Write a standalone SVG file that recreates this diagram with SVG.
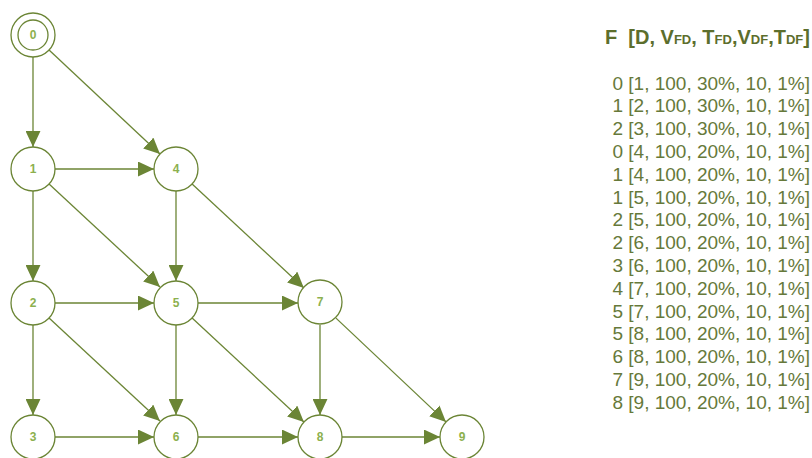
<svg xmlns="http://www.w3.org/2000/svg" width="812" height="458" viewBox="0 0 812 458">
<style>
.node circle{fill:#ffffff;stroke:#6b8535;stroke-width:1.3}
.node text{font-family:"Liberation Sans",Arial,sans-serif;font-weight:bold;font-size:12px;fill:#8cb04e;text-anchor:middle;dominant-baseline:central}
.edges line{stroke:#6b8535;stroke-width:1.3;marker-end:url(#arr)}
.title{font-family:"Liberation Sans",Arial,sans-serif;font-weight:bold;font-size:20px;fill:#5c6e2c}
.title .s{font-size:13px}
.list{font-family:"Liberation Sans",Arial,sans-serif;font-size:19px;fill:#66793a;text-anchor:end}
</style>
<defs>
<marker id="arr" markerUnits="userSpaceOnUse" markerWidth="16" markerHeight="15" viewBox="0 0 15 14" refX="15" refY="7" orient="auto">
<path d="M0,0 L15,7 L0,14 Z" fill="#6b8535"/>
</marker>
</defs>
<rect width="812" height="458" fill="#ffffff"/>
<g class="edges" id="connectors">
<line x1="33" y1="57" x2="33" y2="147"/>
<line x1="49.05" y1="50.04" x2="159.95" y2="153.96"/>
<line x1="55" y1="169" x2="154" y2="169"/>
<line x1="33" y1="191" x2="33" y2="281"/>
<line x1="49.05" y1="184.04" x2="159.95" y2="286.96"/>
<line x1="176" y1="191" x2="176" y2="281"/>
<line x1="192.1" y1="184" x2="303.9" y2="288"/>
<line x1="55" y1="303" x2="154" y2="303"/>
<line x1="33" y1="325" x2="33" y2="415"/>
<line x1="49.05" y1="318.04" x2="159.95" y2="420.96"/>
<line x1="198" y1="303" x2="298" y2="303"/>
<line x1="176" y1="325" x2="176" y2="415"/>
<line x1="192.1" y1="318" x2="303.9" y2="422"/>
<line x1="320" y1="325" x2="320" y2="415"/>
<line x1="336" y1="318.1" x2="446" y2="421.9"/>
<line x1="55" y1="437" x2="154" y2="437"/>
<line x1="198" y1="437" x2="298" y2="437"/>
<line x1="342" y1="437" x2="440" y2="437"/>
</g>
<g class="node" id="n0"><circle cx="33" cy="35" r="22"/><circle cx="33" cy="35" r="15"/><text x="33" y="35">0</text></g>
<g class="node" id="n1"><circle cx="33" cy="169" r="22"/><text x="33" y="169">1</text></g>
<g class="node" id="n4"><circle cx="176" cy="169" r="22"/><text x="176" y="169">4</text></g>
<g class="node" id="n2"><circle cx="33" cy="303" r="22"/><text x="33" y="303">2</text></g>
<g class="node" id="n5"><circle cx="176" cy="303" r="22"/><text x="176" y="303">5</text></g>
<g class="node" id="n7"><circle cx="320" cy="302" r="22"/><text x="320" y="302">7</text></g>
<g class="node" id="n3"><circle cx="33" cy="437" r="22"/><text x="33" y="437">3</text></g>
<g class="node" id="n6"><circle cx="176" cy="437" r="22"/><text x="176" y="437">6</text></g>
<g class="node" id="n8"><circle cx="320" cy="437" r="22"/><text x="320" y="437">8</text></g>
<g class="node" id="n9"><circle cx="462" cy="437" r="22"/><text x="462" y="437">9</text></g>
<g id="legend">
<text class="title" x="605" y="44" xml:space="preserve">F  [D, V<tspan class="s">FD</tspan>, T<tspan class="s">FD</tspan>,V<tspan class="s">DF</tspan>,T<tspan class="s">DF</tspan>]</text>
<text class="list" x="810" y="89.5">0 [1, 100, 30%, 10, 1%]</text>
<text class="list" x="810" y="112.3">1 [2, 100, 30%, 10, 1%]</text>
<text class="list" x="810" y="135.1">2 [3, 100, 30%, 10, 1%]</text>
<text class="list" x="810" y="157.9">0 [4, 100, 20%, 10, 1%]</text>
<text class="list" x="810" y="180.7">1 [4, 100, 20%, 10, 1%]</text>
<text class="list" x="810" y="203.5">1 [5, 100, 20%, 10, 1%]</text>
<text class="list" x="810" y="226.3">2 [5, 100, 20%, 10, 1%]</text>
<text class="list" x="810" y="249.1">2 [6, 100, 20%, 10, 1%]</text>
<text class="list" x="810" y="271.9">3 [6, 100, 20%, 10, 1%]</text>
<text class="list" x="810" y="294.7">4 [7, 100, 20%, 10, 1%]</text>
<text class="list" x="810" y="317.5">5 [7, 100, 20%, 10, 1%]</text>
<text class="list" x="810" y="340.3">5 [8, 100, 20%, 10, 1%]</text>
<text class="list" x="810" y="363.1">6 [8, 100, 20%, 10, 1%]</text>
<text class="list" x="810" y="385.9">7 [9, 100, 20%, 10, 1%]</text>
<text class="list" x="810" y="408.7">8 [9, 100, 20%, 10, 1%]</text>
</g>
</svg>
